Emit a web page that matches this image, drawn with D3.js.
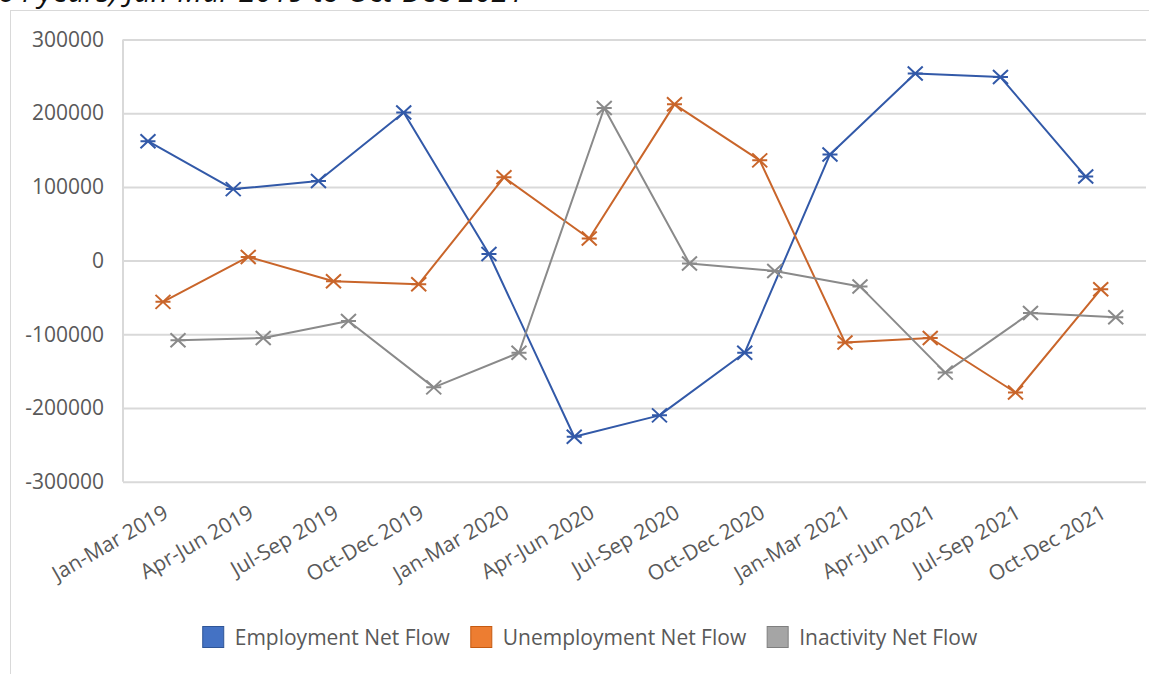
<!DOCTYPE html>
<html>
<head>
<meta charset="utf-8">
<script src="https://cdn.jsdelivr.net/npm/d3@7"></script>
<style>
  html, body { margin: 0; padding: 0; background: #fff; }
  svg { display: block; font-family: "Open Sans", sans-serif; }
</style>
</head>
<body>
<svg id="chart" width="1149" height="674"></svg>
<script>
// Quarterly labour market net flows, Jan-Mar 2019 to Oct-Dec 2021
const categories = [
  "Jan-Mar 2019", "Apr-Jun 2019", "Jul-Sep 2019", "Oct-Dec 2019",
  "Jan-Mar 2020", "Apr-Jun 2020", "Jul-Sep 2020", "Oct-Dec 2020",
  "Jan-Mar 2021", "Apr-Jun 2021", "Jul-Sep 2021", "Oct-Dec 2021"
];
const seriesNames = ["Employment Net Flow", "Unemployment Net Flow", "Inactivity Net Flow"];
const employment   = [162000, 97000, 108000, 201000, 9000, -239000, -210000, -125000, 144000, 254000, 249000, 114000];
const unemployment = [-56000, 5000, -28000, -32000, 113000, 30000, 212000, 136000, -111000, -105000, -179000, -39000];
const inactivity   = [-108000, -105000, -82000, -172000, -125000, 207000, -4000, -14000, -35000, -152000, -71000, -77000];
const yTicks = [-300000, -200000, -100000, 0, 100000, 200000, 300000];
const titleText = "64 years) Jan-Mar 2019 to Oct-Dec 2021";

const lineColors   = ["#3259A8", "#C9652A", "#8A8A8A"];
const legendColors = ["#4472C4", "#ED7D31", "#A5A5A5"];
const legendBorders = ["#2F5597", "#C55A11", "#7F7F7F"];

const seriesData = [employment, unemployment, inactivity];

const svg = d3.select("#chart");
const W = 1149, H = 674;
const plot = { left: 123, right: 1146, top: 39.5, bottom: 481.7 };

svg.append("rect").attr("width", W).attr("height", H).attr("fill", "#fff");

// Title line, running off the top edge of the page
svg.append("text")
  .attr("x", -2).attr("y", 2)
  .attr("font-size", 30).attr("font-style", "italic")
  .attr("fill", "#111")
  .text(titleText);

// Chart frame
svg.append("rect")
  .attr("x", 10.5).attr("y", 10.5)
  .attr("width", 1200).attr("height", 800)
  .attr("fill", "#fff").attr("stroke", "#d9d9d9").attr("stroke-width", 1);

const y = d3.scaleLinear().domain([-300000, 300000]).range([plot.bottom, plot.top]);
const x0 = d3.scaleBand().domain(categories).range([plot.left, plot.right]).padding(0);
const bw = x0.bandwidth();
const x1 = d3.scalePoint().domain(seriesNames).range([bw * 0.293, bw * 0.645]);

// Gridlines and value labels
const yAxis = d3.axisLeft(y).tickValues(yTicks).tickSize(-(plot.right - plot.left)).tickPadding(19).tickFormat(d => String(d));
const gy = svg.append("g").attr("transform", `translate(${plot.left},0)`).call(yAxis);
gy.select(".domain").remove();
gy.selectAll(".tick line").attr("stroke", "#d9d9d9").attr("stroke-width", 2);
gy.selectAll(".tick text").attr("font-size", 21).attr("fill", "#595959").attr("font-family", "Open Sans, sans-serif");

// Left edge of the plot area
svg.append("line")
  .attr("x1", plot.left).attr("x2", plot.left)
  .attr("y1", plot.top).attr("y2", plot.bottom)
  .attr("stroke", "#d9d9d9").attr("stroke-width", 2);

// Category labels
const xAxis = d3.axisBottom(x0).tickSize(0).tickPadding(0);
const gx = svg.append("g").attr("transform", `translate(0,${plot.bottom})`).call(xAxis);
gx.select(".domain").remove();
gx.selectAll(".tick text")
  .attr("font-size", 21).attr("fill", "#595959").attr("font-family", "Open Sans, sans-serif")
  .attr("text-anchor", "end")
  .attr("dy", null)
  .attr("y", 0)
  .attr("transform", "translate(0,28) rotate(-30)")
  .attr("dominant-baseline", "central");

// Series lines and markers
const line = d3.line()
  .x(d => d.x)
  .y(d => y(d.v));

seriesNames.forEach((name, s) => {
  const pts = seriesData[s].map((v, i) => ({ x: x0(categories[i]) + x1(name), v }));
  const g = svg.append("g");
  g.append("path")
    .datum(pts)
    .attr("d", line)
    .attr("fill", "none")
    .attr("stroke", lineColors[s])
    .attr("stroke-width", 2)
    .attr("stroke-linejoin", "round");
  g.selectAll("path.marker")
    .data(pts)
    .join("path")
    .attr("class", "marker")
    .attr("transform", d => `translate(${d.x},${y(d.v)})`)
    .attr("d", "M-7.5,-7L7.5,7M-7.5,7L7.5,-7M-7.5,0L7.5,0")
    .attr("fill", "none")
    .attr("stroke", lineColors[s])
    .attr("stroke-width", 2);
});

// Legend
const legend = svg.append("g");
const items = legend.selectAll("g").data(seriesNames).join("g");
items.append("rect")
  .attr("width", 21).attr("height", 21)
  .attr("y", -10.5)
  .attr("fill", (d, i) => legendColors[i])
  .attr("stroke", (d, i) => legendBorders[i])
  .attr("stroke-width", 1);
items.append("text")
  .attr("x", 32)
  .attr("dominant-baseline", "central")
  .attr("font-size", 21)
  .attr("fill", "#595959")
  .text(d => d);
let cursor = 0;
items.each(function () {
  const t = d3.select(this).select("text").node().getComputedTextLength();
  d3.select(this).attr("transform", `translate(${cursor},0)`);
  cursor += 32 + t + 21;
});
const legendWidth = cursor - 21;
legend.attr("transform", `translate(${590 - legendWidth / 2},637)`);
</script>
</body>
</html>
